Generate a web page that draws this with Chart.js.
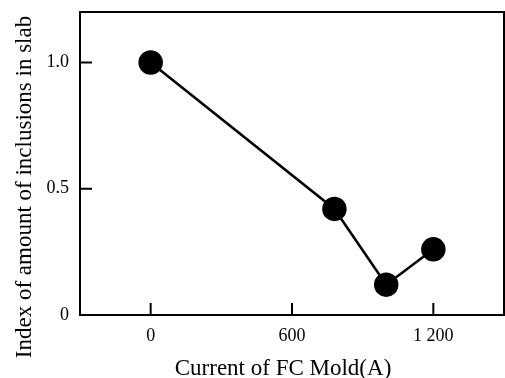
<!DOCTYPE html>
<html lang="en">
<head>
<meta charset="UTF-8">
<title>Inclusions vs FC Mold current</title>
<script src="https://cdn.jsdelivr.net/npm/chart.js"></script>
<style>
    html, body { margin: 0; background: #fff; overflow: hidden; }
    #wrap { width: 505px; height: 378px; }
</style>
</head>
<body>
<div id="wrap"><canvas id="chart"></canvas></div>
<script>
// values
const currents = [0, 780, 1000, 1200];
const inclusionIndex = [1.0, 0.42, 0.12, 0.26];
const xTickValues = [0, 600, 1200];
const xTickLabels = ['0', '600', '1 200'];
const yTickValues = [0, 0.5, 1.0];
const yTickLabels = ['0', '0.5', '1.0'];
const xTitle = 'Current of FC Mold(A)';
const yTitle = 'Index of amount of inclusions in slab';

const serif = "'Liberation Serif', 'DejaVu Serif', serif";

// box around plot, inward tick marks and the axis titles
// (titles drawn here because the original ones sit off-centre)
const frame = {
    id: 'frame',
    afterDatasetsDraw(chart) {
        const { ctx, chartArea: a, scales } = chart;
        ctx.save();
        ctx.strokeStyle = '#000';
        ctx.lineWidth = 2;
        ctx.strokeRect(a.left, a.top, a.right - a.left, a.bottom - a.top);
        ctx.beginPath();
        xTickValues.forEach(v => {
            const x = scales.x.getPixelForValue(v);
            ctx.moveTo(x, a.bottom);
            ctx.lineTo(x, a.bottom - 12);
        });
        yTickValues.forEach(v => {
            const y = scales.y.getPixelForValue(v);
            ctx.moveTo(a.left, y);
            ctx.lineTo(a.left + 12, y);
        });
        ctx.stroke();

        ctx.fillStyle = '#000';
        ctx.font = '23px ' + serif;
        ctx.textAlign = 'center';
        ctx.textBaseline = 'alphabetic';
        ctx.fillText(xTitle, 283, 375);

        ctx.translate(31, 187);
        ctx.rotate(-Math.PI / 2);
        ctx.fillText(yTitle, 0, 0);
        ctx.restore();
    }
};

new Chart(document.getElementById('chart'), {
    type: 'scatter',
    data: {
        datasets: [{
            data: currents.map((c, i) => ({ x: c, y: inclusionIndex[i] })),
            showLine: true,
            borderColor: '#000',
            borderWidth: 2.5,
            backgroundColor: '#000',
            pointRadius: 11,
            pointHoverRadius: 11
        }]
    },
    options: {
        responsive: true,
        maintainAspectRatio: false,
        animation: false,
        layout: {
            autoPadding: false,
            padding: { top: 12, right: 1, left: 0, bottom: 0 }
        },
        plugins: { legend: { display: false }, tooltip: { enabled: false } },
        scales: {
            x: {
                type: 'linear',
                min: -300,
                max: 1500,
                afterBuildTicks: s => { s.ticks = xTickValues.map(v => ({ value: v })); },
                afterFit: s => { s.height = 63; s.paddingLeft = 0; s.paddingRight = 0; },
                ticks: {
                    color: '#000',
                    font: { family: serif, size: 18 },
                    padding: 10,
                    callback: (v) => xTickLabels[xTickValues.indexOf(v)]
                },
                grid: { display: false, drawTicks: false },
                border: { display: false }
            },
            y: {
                min: 0,
                max: 1.2,
                afterBuildTicks: s => { s.ticks = yTickValues.map(v => ({ value: v })); },
                afterFit: s => { s.width = 80; s.paddingTop = 0; s.paddingBottom = 0; },
                ticks: {
                    color: '#000',
                    font: { family: serif, size: 18 },
                    padding: 11,
                    callback: (v) => yTickLabels[yTickValues.indexOf(v)]
                },
                grid: { display: false, drawTicks: false },
                border: { display: false }
            }
        }
    },
    plugins: [frame]
});
</script>
</body>
</html>
